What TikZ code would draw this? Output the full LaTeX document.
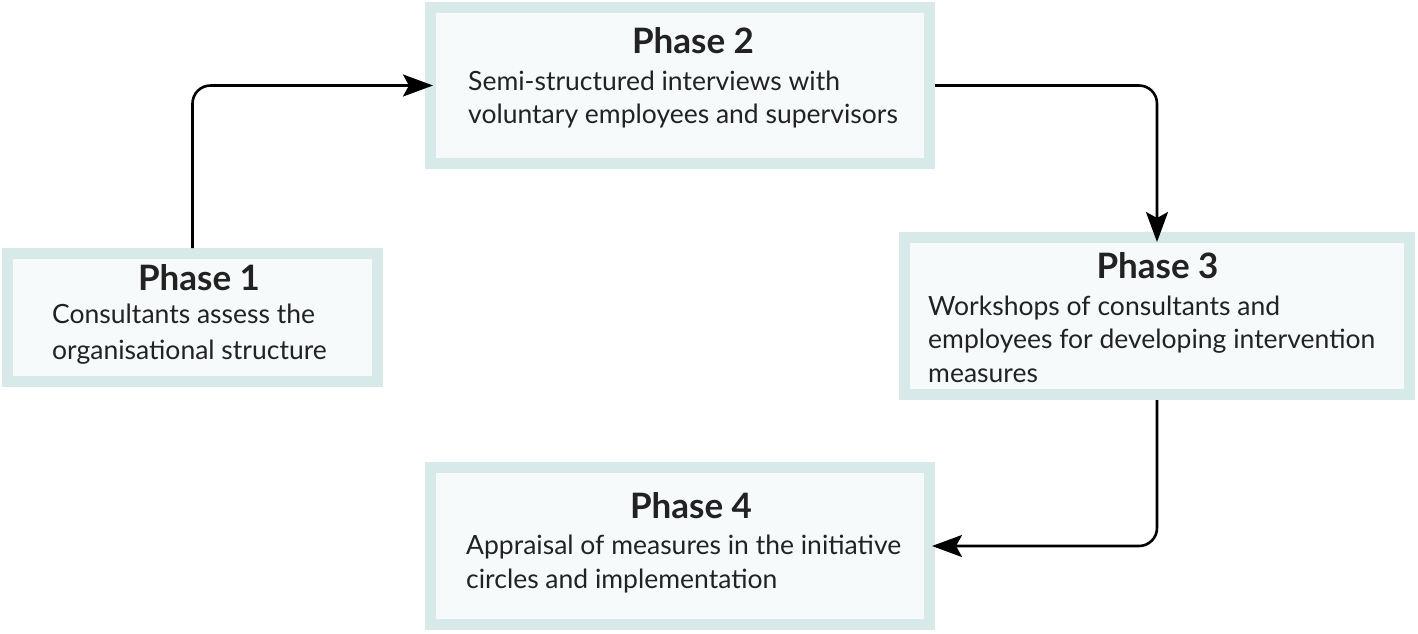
\documentclass[tikz,border=0pt]{standalone}
\usepackage{fontspec}
\setmainfont{Lato}
\usetikzlibrary{arrows.meta}
\definecolor{bordc}{HTML}{D7E9E9}
\definecolor{fillc}{HTML}{F6FAFB}
\definecolor{txtc}{HTML}{222222}
\begin{document}
\begin{tikzpicture}[x=1pt,y=-1pt,
 phasebox/.style={draw=bordc,fill=fillc,line width=11pt,inner sep=0pt},
 ttl/.style={font=\fontsize{35}{40}\selectfont\bfseries,text=txtc,anchor=base,inner sep=0pt},
 body/.style={font=\fontsize{26.5}{34}\selectfont,text=txtc,anchor=base west,inner sep=0pt},
 conn/.style={line width=2.6pt,rounded corners=18pt,-{Stealth[length=30pt,width=22pt,inset=6pt]}}]
\useasboundingbox (0,0) rectangle (1418,633);
% boxes
\node[phasebox,minimum width=370pt,minimum height=128pt] (p1) at (192.5,317.5) {};
\node[phasebox,minimum width=499pt,minimum height=156pt] (p2) at (680,85.5) {};
\node[phasebox,minimum width=505pt,minimum height=157pt] (p3) at (1157,316) {};
\node[phasebox,minimum width=499pt,minimum height=157pt] (p4) at (680,546) {};
% texts
\node[ttl] (t1) at (199,290) {Phase 1};
\node[body] (b1a) at (52,323) {Consultants assess the};
\node[body] (b1b) at (52,359) {organisational structure};
\node[ttl] (t2) at (693,53) {Phase 2};
\node[body] (b2a) at (468,90) {Semi-structured interviews with};
\node[body] (b2b) at (468,123) {voluntary employees and supervisors};
\node[ttl] (t3) at (1157.5,278) {Phase 3};
\node[body] (b3a) at (928,315) {Workshops of consultants and};
\node[body] (b3b) at (928,348) {employees for developing intervention};
\node[body] (b3c) at (928,382) {measures};
\node[ttl] (t4) at (691,518) {Phase 4};
\node[body] (b4a) at (466,554) {Appraisal of measures in the initiative};
\node[body] (b4b) at (466,588) {circles and implementation};
% connectors
\coordinate (e2) at ([xshift=8pt]p2.west);
\coordinate (e3) at ([yshift=-10pt]p3.north);
\coordinate (e4) at ([xshift=-3pt]p4.east);
\draw[conn] (p1.north) |- (e2);
\draw[conn] (p2.east) -| (e3);
\draw[conn] (p3.south) |- (e4);
\end{tikzpicture}
\end{document}
